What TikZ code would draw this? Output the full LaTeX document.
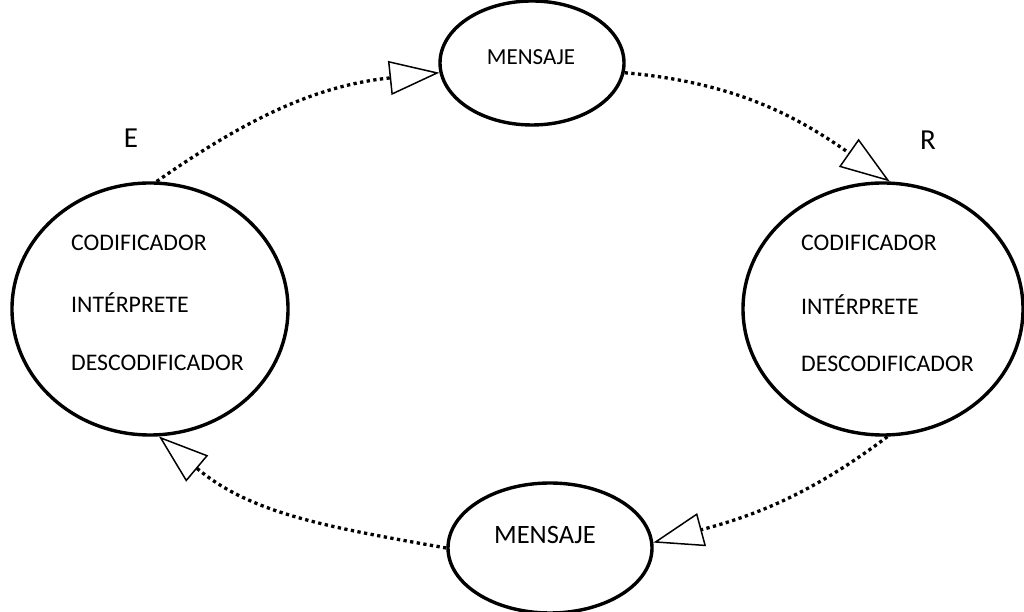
\documentclass[tikz,border=0pt]{standalone}
\usepackage{fontspec}
\setmainfont{Carlito}
\usetikzlibrary{arrows.meta,shapes.geometric}

\tikzset{
  actor/.style={ellipse, draw, line width=3.4pt, inner sep=0pt},
  msg/.style={ellipse, draw, line width=3.4pt, inner sep=0pt},
  role/.style={anchor=west, inner sep=0pt, font=\fontsize{23.8}{26}\selectfont},
  letter/.style={inner sep=0pt, font=\fontsize{29}{32}\selectfont},
  flow/.style={line width=3.3pt, dash pattern=on 3.3pt off 3.4pt,
    -{Triangle[open, length=50pt, width=34pt, line width=1.5pt]}},
}

\begin{document}
\begin{tikzpicture}[x=1pt, y=1pt]
  \useasboundingbox (0,0) rectangle (1024,612);

  % sender and receiver
  \node[actor, minimum width=276pt, minimum height=252pt] (emisor) at (150,303) {};
  \node[actor, minimum width=280pt, minimum height=252pt] (receptor) at (883,303) {};

  % messages
  \node[msg, minimum width=184pt, minimum height=124pt] (msgtop) at (532,549) {};
  \node[msg, minimum width=204pt, minimum height=130pt] (msgbot) at (550,64) {};
  \node[inner sep=0pt, font=\fontsize{23}{26}\selectfont] (msgtoptext) at (531,555) {MENSAJE};
  \node[inner sep=0pt, font=\fontsize{26.5}{29}\selectfont] (msgbottext) at (545,77) {MENSAJE};

  % roles inside the sender
  \node[role] (ecod) at (71,369) {CODIFICADOR};
  \node[role] (eint) at (71,309) {INTÉRPRETE};
  \node[role] (edes) at (71,249) {DESCODIFICADOR};

  % roles inside the receiver
  \node[role] (rcod) at (801,369) {CODIFICADOR};
  \node[role] (rint) at (801,307) {INTÉRPRETE};
  \node[role] (rdes) at (801,248) {DESCODIFICADOR};

  % letters
  \node[letter] (labE) at (131,474) {E};
  \node[letter] (labR) at (928,472) {R};

  % communication cycle
  \draw[flow] (emisor.87) to[out=35, in=186] (msgtop.186);
  \draw[flow] (msgtop.354) to[out=-5, in=145] (receptor.87);
  \draw[flow] (receptor.272) to[out=217, in=15] (msgbot.3);
  \draw[flow] (msgbot.180) to[out=170, in=-40] (emisor.274);
\end{tikzpicture}
\end{document}
